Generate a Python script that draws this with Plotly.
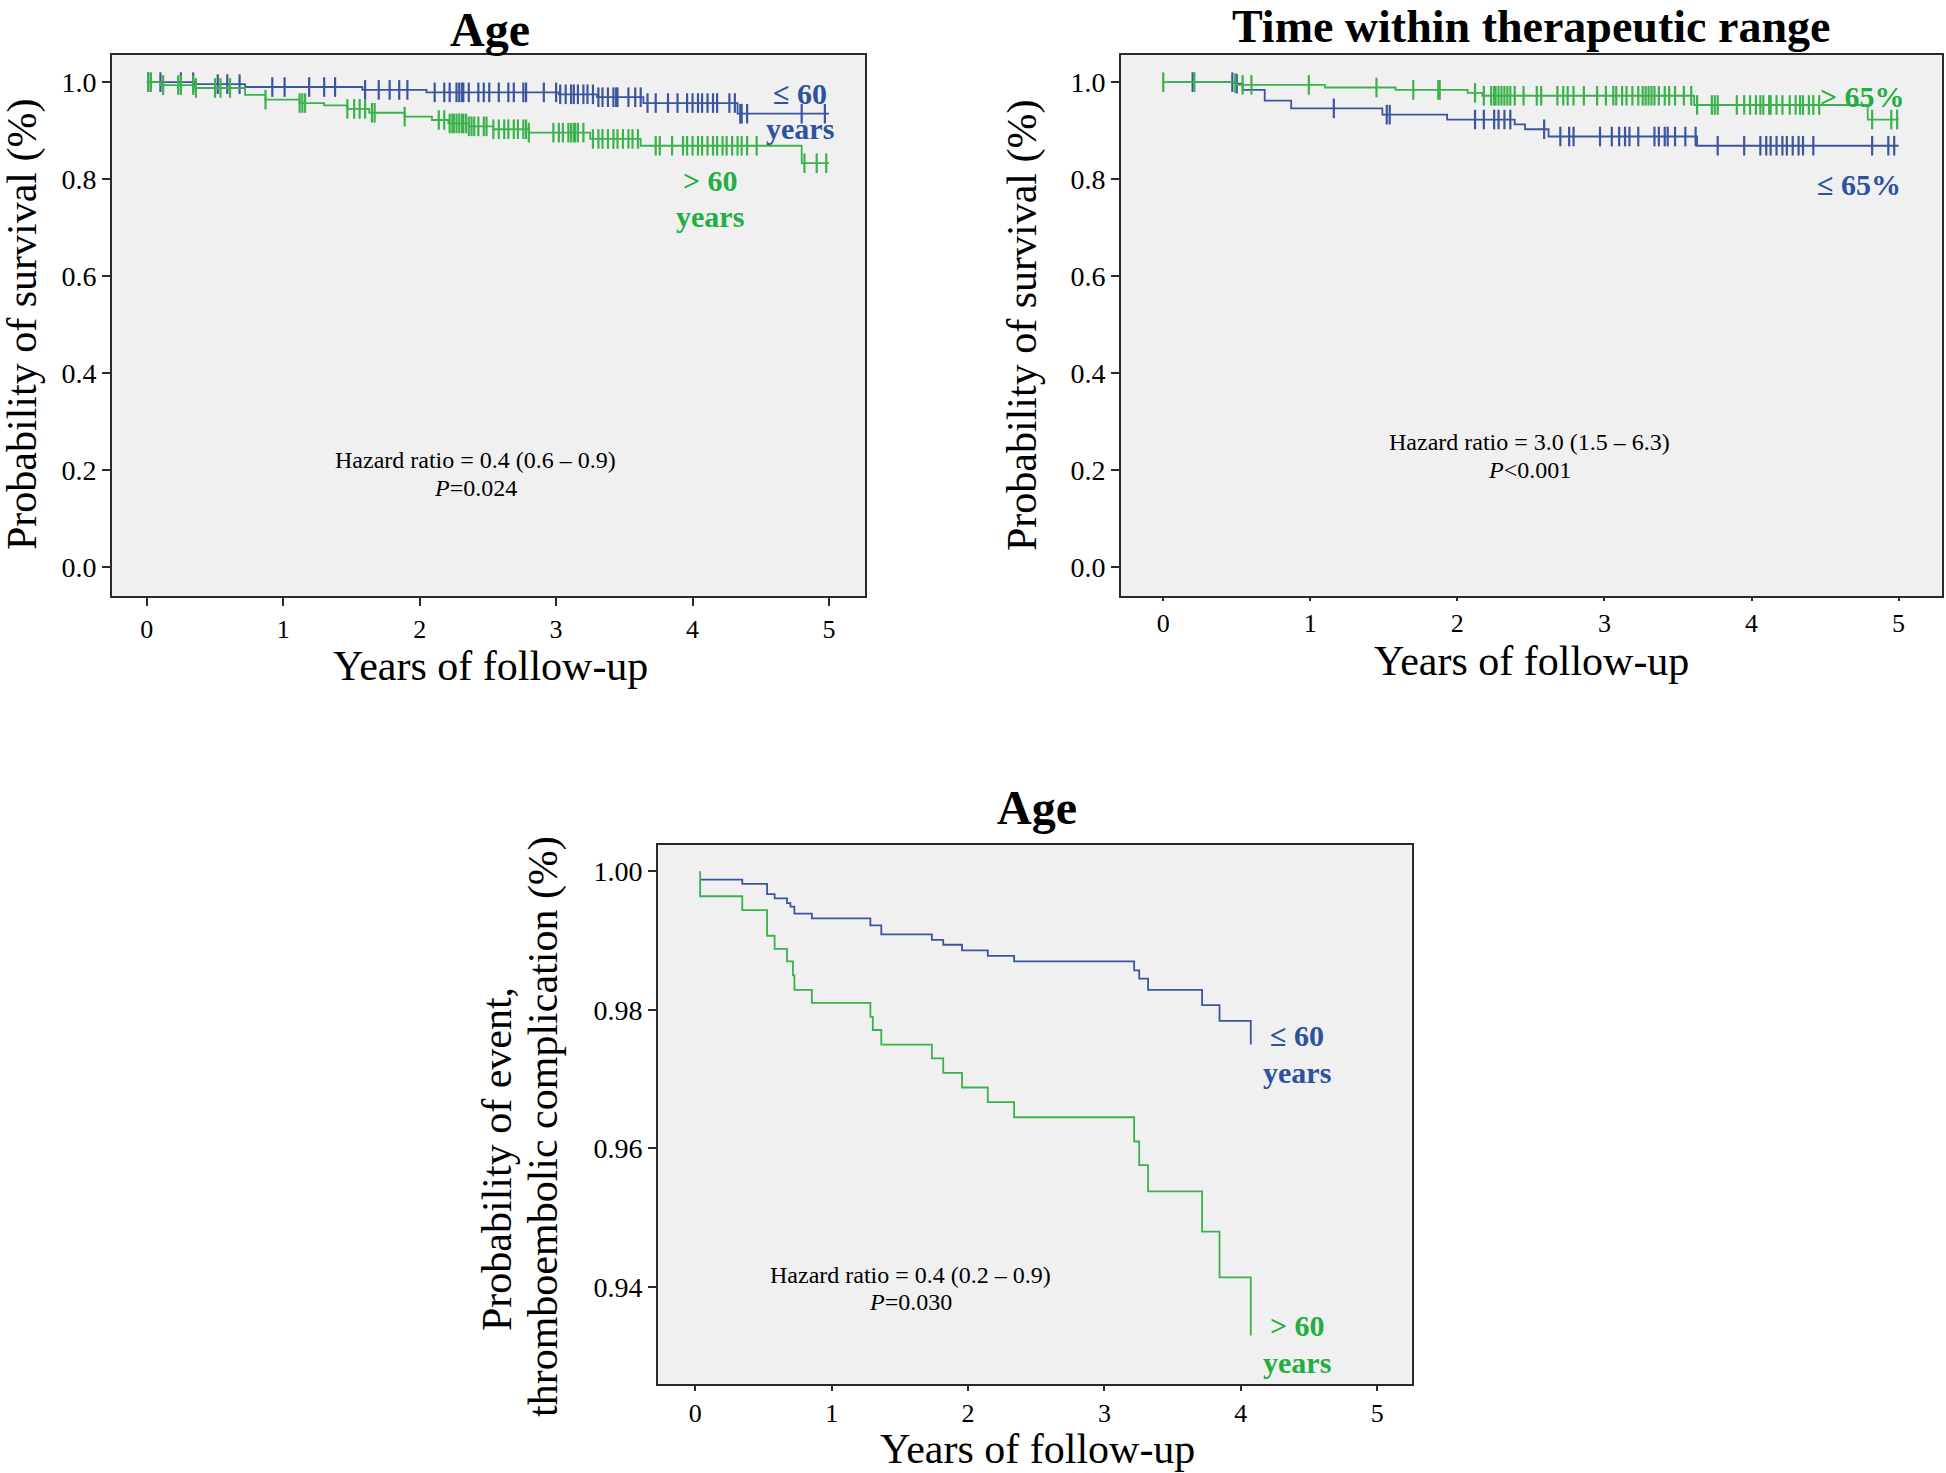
import plotly.graph_objects as go

# ---------------- data ----------------
# Panel A: Age, probability of survival
age_le60_t = [0, 0.35, 0.72, 1.58, 2.05, 3.02, 3.30, 3.64, 4.33, 5.0]
age_le60_s = [1.0, 0.996, 0.990, 0.984, 0.979, 0.975, 0.969, 0.957, 0.935, 0.935]
age_le60_cens = [0.01, 0.10, 0.25, 0.34, 0.52, 0.59, 0.68, 0.92, 1.01, 1.19, 1.30, 1.38, 1.60, 1.70,
                 1.78, 1.85, 1.91, 2.11, 2.18, 2.22, 2.27, 2.29, 2.31, 2.32, 2.36, 2.43, 2.47, 2.51,
                 2.58, 2.65, 2.69, 2.76, 2.78, 2.91, 3.00, 3.03, 3.07, 3.11, 3.13, 3.16, 3.20, 3.23,
                 3.27, 3.31, 3.34, 3.38, 3.42, 3.44, 3.45, 3.53, 3.58, 3.62, 3.67, 3.73, 3.82, 3.89,
                 3.96, 4.00, 4.04, 4.07, 4.11, 4.15, 4.18, 4.27, 4.31, 4.35, 4.36, 4.40, 4.80, 4.97]

age_gt60_t = [0, 0.10, 0.35, 0.72, 0.87, 1.12, 1.30, 1.47, 1.63, 1.89, 2.09, 2.21, 2.36, 2.54, 2.80,
              3.25, 3.62, 4.80, 5.0]
age_gt60_s = [1.0, 0.994, 0.988, 0.974, 0.964, 0.957, 0.952, 0.945, 0.937, 0.929, 0.922, 0.915, 0.909,
              0.903, 0.896, 0.883, 0.869, 0.833, 0.833]
age_gt60_cens = [0.01, 0.03, 0.12, 0.23, 0.25, 0.34, 0.36, 0.50, 0.54, 0.61, 0.87, 1.12, 1.14, 1.16,
                 1.47, 1.52, 1.56, 1.60, 1.65, 1.67, 1.89, 2.14, 2.18, 2.22, 2.24, 2.25, 2.27, 2.29,
                 2.31, 2.32, 2.34, 2.36, 2.38, 2.40, 2.43, 2.47, 2.49, 2.54, 2.58, 2.62, 2.65, 2.69,
                 2.72, 2.76, 2.78, 2.80, 2.98, 3.02, 3.05, 3.09, 3.11, 3.13, 3.14, 3.16, 3.20, 3.27,
                 3.31, 3.34, 3.38, 3.42, 3.45, 3.49, 3.53, 3.56, 3.60, 3.73, 3.76, 3.85, 3.93, 3.96,
                 4.00, 4.04, 4.07, 4.11, 4.15, 4.18, 4.22, 4.25, 4.29, 4.33, 4.36, 4.40, 4.47, 4.82,
                 4.91, 4.98]

# Panel B: Time within therapeutic range
ttr_gt65_t = [0, 0.48, 0.50, 1.10, 1.58, 2.07, 2.17, 3.61, 4.79, 5.0]
ttr_gt65_s = [1.0, 0.998, 0.9945, 0.989, 0.984, 0.978, 0.972, 0.953, 0.923, 0.923]
ttr_gt65_cens = [0.0, 0.21, 0.49, 0.54, 0.60, 0.99, 1.45, 1.70, 1.87, 1.88, 2.12, 2.18, 2.23, 2.25,
                 2.26, 2.28, 2.30, 2.32, 2.34, 2.36, 2.39, 2.45, 2.54, 2.57, 2.68, 2.72, 2.75, 2.79,
                 2.86, 2.95, 3.01, 3.06, 3.08, 3.12, 3.15, 3.19, 3.23, 3.26, 3.28, 3.30, 3.32, 3.34,
                 3.37, 3.41, 3.44, 3.48, 3.54, 3.59, 3.63, 3.73, 3.75, 3.77, 3.90, 3.95, 3.99, 4.03,
                 4.06, 4.08, 4.12, 4.13, 4.17, 4.21, 4.26, 4.30, 4.33, 4.35, 4.39, 4.42, 4.46, 4.82,
                 4.95, 4.99]

ttr_le65_t = [0.03, 0.50, 0.54, 0.69, 0.87, 1.49, 1.93, 2.39, 2.46, 2.62, 3.63, 5.0]
ttr_le65_s = [1.0, 0.997, 0.984, 0.962, 0.946, 0.933, 0.923, 0.913, 0.903, 0.888, 0.869, 0.869]
ttr_le65_cens = [0.20, 0.21, 0.47, 0.50, 1.16, 1.52, 1.54, 2.12, 2.18, 2.25, 2.28, 2.32, 2.36, 2.59,
                 2.70, 2.76, 2.79, 2.97, 3.05, 3.10, 3.14, 3.17, 3.23, 3.34, 3.37, 3.41, 3.43, 3.48,
                 3.55, 3.62, 3.77, 3.95, 4.06, 4.10, 4.13, 4.17, 4.21, 4.24, 4.28, 4.32, 4.35, 4.42,
                 4.82, 4.93, 4.97]

# Panel C: Age, probability of thromboembolic event
te_le60_t = [0.036, 0.345, 0.527, 0.582, 0.673, 0.698, 0.727, 0.855, 1.284, 1.364, 1.735, 1.818,
             1.956, 2.145, 2.338, 3.218, 3.255, 3.320, 3.716, 3.844, 4.073]
te_le60_s = [0.9988, 0.9982, 0.9967, 0.9961, 0.9954, 0.9949, 0.9939, 0.9932, 0.9922, 0.9909, 0.9901,
             0.9894, 0.9886, 0.9878, 0.9870, 0.9857, 0.9845, 0.9829, 0.9807, 0.9784, 0.9750]

te_gt60_t = [0.036, 0.036, 0.345, 0.527, 0.582, 0.673, 0.716, 0.727, 0.855, 1.284, 1.302, 1.364,
             1.735, 1.818, 1.956, 2.145, 2.338, 3.218, 3.255, 3.320, 3.716, 3.844, 4.073]
te_gt60_s = [1.0, 0.9964, 0.9944, 0.9907, 0.9888, 0.9870, 0.9850, 0.9829, 0.9810, 0.9790, 0.9771,
             0.9750, 0.9730, 0.9709, 0.9688, 0.9667, 0.9645, 0.9610, 0.9576, 0.9538, 0.9480, 0.9414,
             0.9330]

# ---------------- styling ----------------
BLUE_LINE = "#3B569F"
GREEN_LINE = "#3BB24C"
BLUE_TXT = "#2C52A0"
GREEN_TXT = "#22AE40"
BG = "#F0F0F0"
FONT = "Liberation Serif, Times New Roman, serif"


def step_at(times, surv, t):
    val = surv[0]
    for ti, si in zip(times, surv):
        if ti <= t:
            val = si
        else:
            break
    return val


fig = go.Figure()


def add_curve(times, surv, color, xa, ya, cens=None):
    fig.add_trace(go.Scatter(x=times, y=surv, mode="lines", line=dict(color=color, width=1.8, shape="hv"),
                             xaxis=xa, yaxis=ya, showlegend=False, hoverinfo="skip"))
    if cens:
        fig.add_trace(go.Scatter(x=cens, y=[step_at(times, surv, c) for c in cens], mode="markers",
                                 marker=dict(symbol="line-ns-open", size=14, color=color,
                                             line=dict(color=color, width=2.2)),
                                 xaxis=xa, yaxis=ya, showlegend=False, hoverinfo="skip"))


add_curve(age_le60_t, age_le60_s, BLUE_LINE, "x", "y", age_le60_cens)
add_curve(age_gt60_t, age_gt60_s, GREEN_LINE, "x", "y", age_gt60_cens)
add_curve(ttr_le65_t, ttr_le65_s, BLUE_LINE, "x2", "y2", ttr_le65_cens)
add_curve(ttr_gt65_t, ttr_gt65_s, GREEN_LINE, "x2", "y2", ttr_gt65_cens)
add_curve(te_le60_t, te_le60_s, BLUE_LINE, "x3", "y3")
add_curve(te_gt60_t, te_gt60_s, GREEN_LINE, "x3", "y3")

W, H = 1946, 1473


def px(x):
    return x / W


def py(y):
    return 1 - y / H


axis_common = dict(showline=True, mirror=True, linecolor="#2a2a2a", linewidth=2, ticks="outside",
                   tickwidth=1.5, tickcolor="#2a2a2a", showgrid=False, zeroline=False)
YT = dict(family=FONT, size=28, color="black")
XT = dict(family=FONT, size=26, color="black")

fig.update_layout(
    width=W, height=H, margin=dict(l=0, r=0, t=0, b=0), paper_bgcolor="white", plot_bgcolor=BG,
    xaxis=dict(domain=[px(112), px(865)], range=[-0.255, 5.264], tickvals=[0, 1, 2, 3, 4, 5],
               anchor="y", ticklen=8, ticklabelstandoff=1, tickfont=XT, **axis_common),
    yaxis=dict(domain=[py(596), py(55)], range=[-0.059, 1.056], tickvals=[0, 0.2, 0.4, 0.6, 0.8, 1.0],
               tickformat=".1f", anchor="x", ticklen=8, tickfont=YT, **axis_common),
    xaxis2=dict(domain=[px(1121), px(1942)], range=[-0.287, 5.295], tickvals=[0, 1, 2, 3, 4, 5],
                anchor="y2", ticklen=3, tickfont=XT, **axis_common),
    yaxis2=dict(domain=[py(596), py(55)], range=[-0.059, 1.056], tickvals=[0, 0.2, 0.4, 0.6, 0.8, 1.0],
                tickformat=".1f", anchor="x2", ticklen=8, tickfont=YT, **axis_common),
    xaxis3=dict(domain=[px(658), px(1412)], range=[-0.273, 5.255], tickvals=[0, 1, 2, 3, 4, 5],
                anchor="y3", ticklen=5, tickfont=XT, **axis_common),
    yaxis3=dict(domain=[py(1384), py(845)], range=[0.926, 1.0038], tickvals=[0.94, 0.96, 0.98, 1.00],
                tickformat=".2f", anchor="x3", ticklen=8, tickfont=YT, **axis_common),
)


def ann(text, x, y, size, color="black", bold=False, angle=0):
    if bold:
        text = "<b>" + text + "</b>"
    fig.add_annotation(text=text, x=px(x), y=py(y), xref="paper", yref="paper", showarrow=False,
                       xanchor="center", yanchor="middle", textangle=angle,
                       font=dict(family=FONT, size=size, color=color))


# titles
ann("Age", 490, 29, 48, bold=True)
ann("Time within therapeutic range", 1531, 27, 46, bold=True)
ann("Age", 1037, 807, 48, bold=True)

# axis titles
ann("Probability of survival (%)", 22, 325, 42, angle=-90)
ann("Probability of survival (%)", 1022, 325, 42, angle=-90)
ann("Years of follow-up", 490, 666, 42)
ann("Years of follow-up", 1531, 661, 42)
ann("Years of follow-up", 1037, 1449, 42)
ann("Probability of event,", 497, 1159, 42, angle=-90)
ann("thromboembolic complication (%)", 543, 1127, 42, angle=-90)

# hazard ratios
ann("Hazard ratio = 0.4 (0.6 \u2013 0.9)", 475, 460, 24)
ann("<i>P</i>=0.024", 475, 488, 24)
ann("Hazard ratio = 3.0 (1.5 \u2013 6.3)", 1529, 442, 24)
ann("<i>P</i><0.001", 1529, 470, 24)
ann("Hazard ratio = 0.4 (0.2 \u2013 0.9)", 910, 1275, 24)
ann("<i>P</i>=0.030", 910, 1302, 24)

# group labels
ann("\u2264 60", 800, 93, 30, BLUE_TXT, True)
ann("years", 800, 129, 30, BLUE_TXT, True)
ann("> 60", 710, 181, 30, GREEN_TXT, True)
ann("years", 710, 217, 30, GREEN_TXT, True)
ann("> 65%", 1862, 96, 30, GREEN_TXT, True)
ann("\u2264 65%", 1859, 184, 30, BLUE_TXT, True)
ann("\u2264 60", 1297, 1035, 30, BLUE_TXT, True)
ann("years", 1297, 1072, 30, BLUE_TXT, True)
ann("> 60", 1297, 1325, 30, GREEN_TXT, True)
ann("years", 1297, 1362, 30, GREEN_TXT, True)

fig.write_html("out.html", config={"displayModeBar": False},
               post_script="document.body.style.margin='0';document.body.style.overflow='hidden';")
